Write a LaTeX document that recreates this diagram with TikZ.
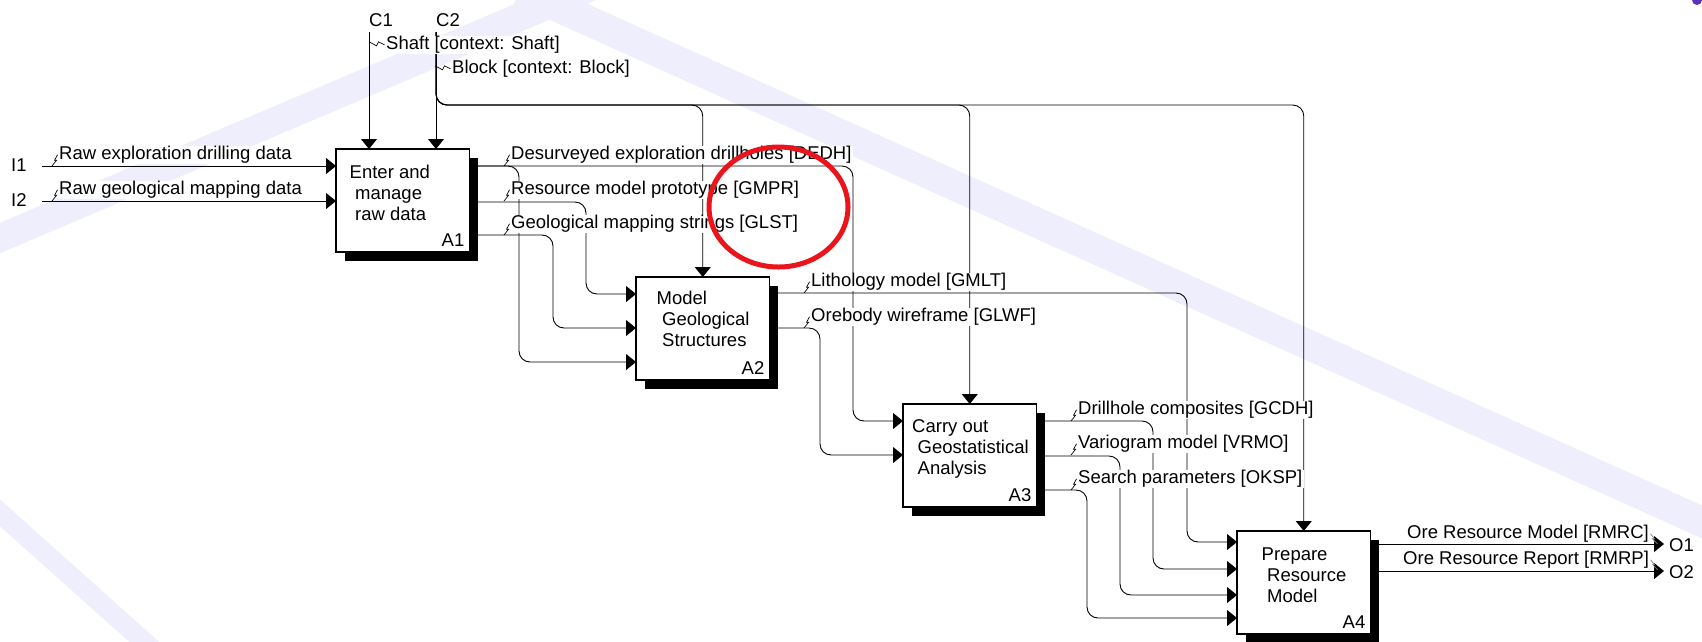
\documentclass[tikz,border=0pt]{standalone}
\usepackage{fontspec}
\setmainfont{Liberation Sans}
\usepackage{tikz}
\usetikzlibrary{arrows.meta, shadows}
\definecolor{wmlilac}{RGB}{238, 238, 252}
\definecolor{markred}{RGB}{234, 20, 28}
\definecolor{logopurple}{RGB}{92, 52, 188}
\newcommand{\idfont}{\fontsize{18.5pt}{21pt}\selectfont}
\newcommand{\labelsquig}[1]{\draw[squiggle] (#1.west) -- ++(-3,5.5) -- ++(2,0) -- ++(-4.5,5.7);}
\newcommand{\ctlsquig}[1]{\draw[squiggle] (#1.west) -- ++(-6,-3) -- ++(-2,4) -- ++(-7.5,-4);}
\newcommand{\outsquig}[1]{\draw[squiggle, draw=gray] (#1.east) -- ++(4,5) -- ++(-2,0) -- ++(5,5);}
\tikzset{
    activity/.style={draw, line width=1.1pt, fill=white, minimum width=133.5pt, minimum height=103pt, inner sep=0pt, outer sep=0pt,
        drop shadow={shadow xshift=8.5pt, shadow yshift=-9pt, fill=black, opacity=1}},
    acttext/.style={font=\idfont, align=left, anchor=north west, inner sep=0pt},
    actid/.style={font=\idfont, anchor=base east, inner sep=0pt},
    port/.style={font=\idfont, anchor=base west, inner sep=0pt},
    flowlabel/.style={font=\idfont, anchor=base west, fill=white, inner xsep=1.5pt, inner ysep=0.5pt},
    flow/.style={line width=0.9pt, rounded corners=11pt},
    flowarrow/.style={flow, -{Triangle[length=10pt, width=16pt]}},
    squiggle/.style={line width=0.7pt},
    streak/.style={draw=wmlilac},
}

\begin{document}
\begin{tikzpicture}[x=1pt, y=-1pt]
    \useasboundingbox (0,0) rectangle (1702,641);
    \draw[streak, line width=28pt] (-40,255) -- (600,-17);
    \draw[streak, line width=30pt] (520,-10) -- (1760,548);
    \draw[streak, line width=20pt] (-20,495) -- (170,665);
    \fill[logopurple] (1697,0) circle (5);

    \node[activity] (A1) at (402.75,200.5) {};
    \node[activity] (A2) at (702.75,328.5) {};
    \node[activity] (A3) at (969.75,455.5) {};
    \node[activity] (A4) at (1303.75,582.5) {};

    \node[acttext] (A1txt) at (349.5,164.4) {Enter and\\\hspace*{5.5pt}manage\\\hspace*{5.5pt}raw data};
    \node[acttext] (A2txt) at (656.5,290.4) {Model\\\hspace*{5.5pt}Geological\\\hspace*{5.5pt}Structures};
    \node[acttext] (A3txt) at (912,419.2) {Carry out\\\hspace*{5.5pt}Geostatistical\\\hspace*{5.5pt}Analysis};
    \node[acttext] (A4txt) at (1261.5,547.4) {Prepare\\\hspace*{5.5pt}Resource\\\hspace*{5.5pt}Model};
    \node[actid] (A1id) at ([xshift=-5pt, yshift=5.5pt]A1.south east) {A1};
    \node[actid] (A2id) at ([xshift=-5pt, yshift=5.5pt]A2.south east) {A2};
    \node[actid] (A3id) at ([xshift=-5pt, yshift=5.5pt]A3.south east) {A3};
    \node[actid] (A4id) at ([xshift=-5pt, yshift=5.5pt]A4.south east) {A4};

    \coordinate (A1i1) at ([yshift=-17pt]A1.north west);
    \coordinate (A1i2) at ([yshift=-52pt]A1.north west);
    \coordinate (A1o1) at ([yshift=-17pt]A1.north east);
    \coordinate (A1o2) at ([yshift=-53pt]A1.north east);
    \coordinate (A1o3) at ([yshift=-86pt]A1.north east);
    \coordinate (A2i1) at ([yshift=-17pt]A2.north west);
    \coordinate (A2i2) at ([yshift=-51pt]A2.north west);
    \coordinate (A2i3) at ([yshift=-85pt]A2.north west);
    \coordinate (A2o1) at ([yshift=-16pt]A2.north east);
    \coordinate (A2o2) at ([yshift=-51pt]A2.north east);
    \coordinate (A3i1) at ([yshift=-17pt]A3.north west);
    \coordinate (A3i2) at ([yshift=-51pt]A3.north west);
    \coordinate (A3o1) at ([yshift=-17pt]A3.north east);
    \coordinate (A3o2) at ([yshift=-52pt]A3.north east);
    \coordinate (A3o3) at ([yshift=-86pt]A3.north east);
    \coordinate (A4i1) at ([yshift=-11pt]A4.north west);
    \coordinate (A4i2) at ([yshift=-38pt]A4.north west);
    \coordinate (A4i3) at ([yshift=-64pt]A4.north west);
    \coordinate (A4i4) at ([yshift=-87pt]A4.north west);
    \coordinate (A4o1) at ([yshift=-13pt]A4.north east);
    \coordinate (A4o2) at ([yshift=-40pt]A4.north east);

    \coordinate (rdedhA) at (519,0);
    \coordinate (rdedhB) at (853,0);
    \coordinate (rgmpr) at (586,0);
    \coordinate (rglst) at (553,0);
    \coordinate (rgmlt) at (1187,0);
    \coordinate (rglwf) at (820,0);
    \coordinate (rgcdh) at (1153,0);
    \coordinate (rvrmo) at (1120,0);
    \coordinate (roksp) at (1087,0);
    \coordinate (cbus) at (0,105);
    \coordinate (in1) at (42,166);
    \coordinate (in2) at (42,201);
    \coordinate (out1) at (1664,544);
    \coordinate (out2) at (1664,571);

    \node[port] (C1) at (369,26.6) {C1};
    \node[port] (C2) at (436,26.6) {C2};
    \node[port] (I1) at (11,171) {I1};
    \node[port] (I2) at (11,206) {I2};
    \node[port] (O1) at (1669,551) {O1};
    \node[port] (O2) at (1669,578) {O2};

    \draw[flowarrow] ([yshift=-5.4pt]C1.base west) -- (C1.base west |- A1.north);
    \draw[flowarrow] ([yshift=-5.4pt]C2.base west) -- (C2.base west |- A1.north);
    \draw[flowarrow] ([yshift=-5.4pt]C2.base west) |- (cbus -| A2.north) -- (A2.north);
    \draw[flowarrow] ([yshift=-5.4pt]C2.base west) |- (cbus -| A3.north) -- (A3.north);
    \draw[flowarrow] ([yshift=-5.4pt]C2.base west) |- (cbus -| A4.north) -- (A4.north);

    \draw[flowarrow] (in1) -- (A1i1);
    \draw[flowarrow] (in2) -- (A1i2);
    \draw[flowarrow] (A1o1) -| (rdedhA |- A2i3) -- (A2i3);
    \draw[flowarrow] (A1o1) -| (rdedhB |- A3i1) -- (A3i1);
    \draw[flowarrow] (A1o2) -| (rgmpr |- A2i1) -- (A2i1);
    \draw[flowarrow] (A1o3) -| (rglst |- A2i2) -- (A2i2);
    \draw[flowarrow] (A2o1) -| (rgmlt |- A4i1) -- (A4i1);
    \draw[flowarrow] (A2o2) -| (rglwf |- A3i2) -- (A3i2);
    \draw[flowarrow] (A3o1) -| (rgcdh |- A4i2) -- (A4i2);
    \draw[flowarrow] (A3o2) -| (rvrmo |- A4i3) -- (A4i3);
    \draw[flowarrow] (A3o3) -| (roksp |- A4i4) -- (A4i4);
    \draw[flowarrow] (A4o1) -- (out1);
    \draw[flowarrow] (A4o2) -- (out2);

    \node[flowlabel] (lDrill) at (57.5,159.6) {Raw exploration drilling data};
    \node[flowlabel] (lMap) at (57.5,194.6) {Raw geological mapping data};
    \node[flowlabel] (lShaft) at (384.5,49.6) {Shaft [context: Shaft]};
    \node[flowlabel] (lBlock) at (450.5,73.6) {Block [context: Block]};
    \node[flowlabel] (lDEDH) at (509.5,159.6) {Desurveyed exploration drillholes [DEDH]};
    \node[flowlabel] (lGMPR) at (509.5,194.6) {Resource model prototype [GMPR]};
    \node[flowlabel] (lGLST) at (509.5,228.6) {Geological mapping strings [GLST]};
    \node[flowlabel] (lGMLT) at (809.5,286.6) {Lithology model [GMLT]};
    \node[flowlabel] (lGLWF) at (809.5,321.6) {Orebody wireframe [GLWF]};
    \node[flowlabel] (lGCDH) at (1076.5,414.6) {Drillhole composites [GCDH]};
    \node[flowlabel] (lVRMO) at (1076.5,448.6) {Variogram model [VRMO]};
    \node[flowlabel] (lOKSP) at (1076.5,483.6) {Search parameters [OKSP]};
    \node[flowlabel] (lRMRC) at (1405.5,538.6) {Ore Resource Model [RMRC]};
    \node[flowlabel] (lRMRP) at (1401.5,564.6) {Ore Resource Report [RMRP]};
    \labelsquig{lDrill}
    \labelsquig{lMap}
    \ctlsquig{lShaft}
    \ctlsquig{lBlock}
    \labelsquig{lDEDH}
    \labelsquig{lGMPR}
    \labelsquig{lGLST}
    \labelsquig{lGMLT}
    \labelsquig{lGLWF}
    \labelsquig{lGCDH}
    \labelsquig{lVRMO}
    \labelsquig{lOKSP}
    \outsquig{lRMRC}
    \outsquig{lRMRP}

    \draw[markred, line width=5pt] (778.5,207) ellipse [x radius=69.5, y radius=60];
\end{tikzpicture}
\end{document}
